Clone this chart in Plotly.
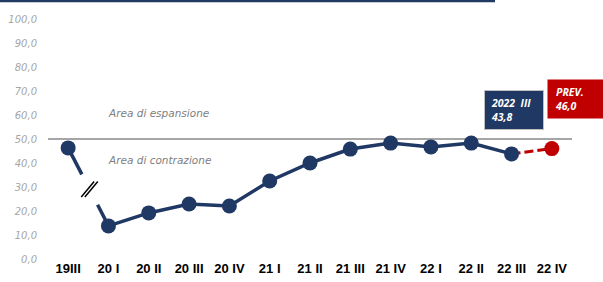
import plotly.graph_objects as go

categories = ["19III", "20 I", "20 II", "20 III", "20 IV", "21 I", "21 II",
              "21 III", "21 IV", "22 I", "22 II", "22 III", "22 IV"]
values = [46.3, 13.8, 19.2, 22.9, 22.1, 32.5, 40.0, 45.8, 48.3, 46.7, 48.3, 43.8, 46.0]
y_ticks = [0, 10, 20, 30, 40, 50, 60, 70, 80, 90, 100]
y_tick_labels = ["0,0", "10,0", "20,0", "30,0", "40,0", "50,0", "60,0", "70,0", "80,0", "90,0", "100,0"]
threshold = 50
last_actual_label = "2022  III"
forecast_label = "PREV."

NAVY = "#1f3864"
RED = "#c00000"

xs = list(range(len(categories)))
n_act = len(values) - 1  # last value is forecast

fig = go.Figure()

# threshold line
fig.add_shape(type="line", xref="x", yref="y", x0=-0.5, x1=len(categories) - 0.5,
              y0=threshold, y1=threshold, line=dict(color="#a6a6a6", width=2), layer="below")

# broken first segment
def interp(f):
    return xs[0] + f * (xs[1] - xs[0]), values[0] + f * (values[1] - values[0])

a0 = interp(0.0); a1 = interp(0.34)
b0 = interp(0.73); b1 = interp(1.0)
for p, q in [(a0, a1), (b0, b1)]:
    fig.add_trace(go.Scatter(x=[p[0], q[0]], y=[p[1], q[1]], mode="lines",
                             line=dict(color=NAVY, width=3.5), hoverinfo="skip", showlegend=False))
# break marks
mid = interp(0.53)
for off in (-0.045, 0.045):
    cx = mid[0] + off
    fig.add_shape(type="line", xref="x", yref="y",
                  x0=cx - 0.16, x1=cx + 0.16, y0=mid[1] - 3.2, y1=mid[1] + 3.2,
                  line=dict(color="black", width=1.5))

# actual line
fig.add_trace(go.Scatter(x=xs[1:n_act], y=values[1:n_act], mode="lines",
                         line=dict(color=NAVY, width=3.5), showlegend=False))
# forecast dashed
fig.add_trace(go.Scatter(x=xs[n_act - 1:], y=values[n_act - 1:], mode="lines",
                         line=dict(color=RED, width=3, dash="9px,4px"), showlegend=False))
# markers
fig.add_trace(go.Scatter(x=xs[:n_act], y=values[:n_act], mode="markers",
                         marker=dict(color=NAVY, size=15), showlegend=False))
fig.add_trace(go.Scatter(x=xs[n_act:], y=values[n_act:], mode="markers",
                         marker=dict(color=RED, size=15), showlegend=False))

def fmt(v):
    return f"{v:.1f}".replace(".", ",")

fig.add_annotation(x=xs[n_act - 1], y=values[n_act - 1], xref="x", yref="y",
                   text=f"<b><i>{last_actual_label}<br>{fmt(values[n_act - 1])}</i></b>",
                   showarrow=False, yshift=44, xshift=2, align="left",
                   font=dict(color="white", size=10.5, family="Open Sans"),
                   bgcolor=NAVY, bordercolor="#bfbfbf", borderwidth=1, borderpad=6,
                   width=46, height=26)
fig.add_annotation(x=xs[n_act], y=values[n_act], xref="x", yref="y",
                   text=f"<b><i>{forecast_label}<br>{fmt(values[n_act])}</i></b>",
                   showarrow=False, yshift=50, xshift=24, align="left",
                   font=dict(color="white", size=10.5, family="Open Sans"),
                   bgcolor=RED, borderpad=7, width=42, height=24)

fig.add_annotation(x=0.95, y=threshold, xref="x", yref="y", text="<i>Area di espansione</i>",
                   showarrow=False, xanchor="left", yshift=26,
                   font=dict(color="#808080", size=10.5, family="DejaVu Sans"))
fig.add_annotation(x=0.95, y=threshold, xref="x", yref="y", text="<i>Area di contrazione</i>",
                   showarrow=False, xanchor="left", yshift=-21,
                   font=dict(color="#808080", size=10.5, family="DejaVu Sans"))

# top border
fig.add_shape(type="line", xref="paper", yref="paper", x0=-48 / 524, x1=447 / 524,
              y0=1 + 18 / 240, y1=1 + 18 / 240, line=dict(color=NAVY, width=2.5))

fig.update_layout(
    width=603, height=282, margin=dict(l=48, r=31, t=19, b=23),
    plot_bgcolor="white", paper_bgcolor="white",
    xaxis=dict(range=[-0.5, len(categories) - 0.5], tickvals=xs, ticktext=categories,
               showgrid=False, zeroline=False, showline=False, ticks="", automargin=False,
               tickfont=dict(family="Liberation Sans Narrow, Arial Narrow, sans-serif", size=13, color="black", weight="bold")),
    yaxis=dict(range=[0, 100], tickvals=y_ticks, ticktext=y_tick_labels,
               showgrid=False, zeroline=False, showline=False, ticks="", automargin=False,
               ticklabelstandoff=10,
               tickfont=dict(family="DejaVu Sans", size=10, color="#a6a6a6", style="italic")),
)

fig.write_html("out.html", config={"displayModeBar": False},
               post_script="document.body.style.margin='0px';document.body.style.overflow='hidden';")
